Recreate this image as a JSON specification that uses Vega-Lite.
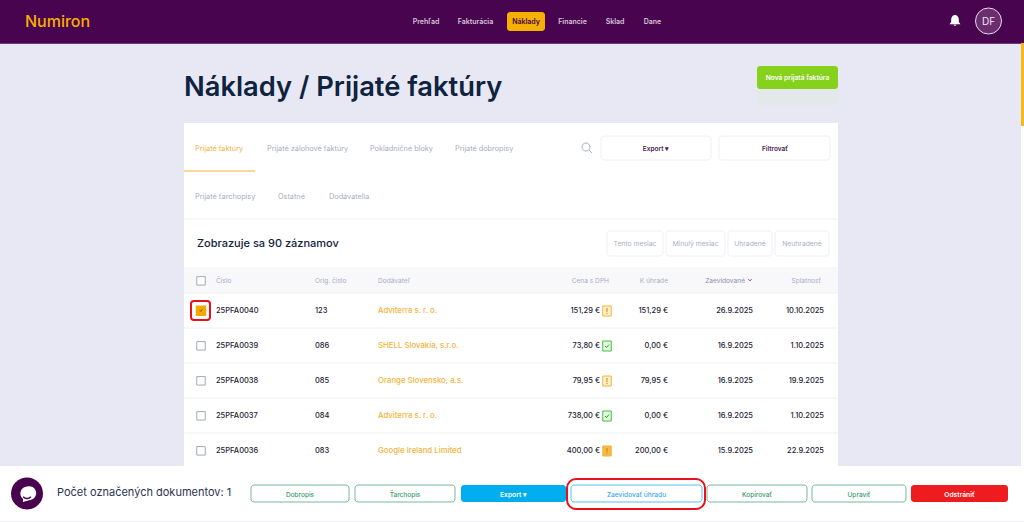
{
  "$schema": "https://vega.github.io/schema/vega-lite/v6.json",
  "width": 1024,
  "height": 522,
  "autosize": {"type": "fit", "contains": "padding"},
  "padding": 0,
  "background": "#e7e8f3",
  "config": {
    "view": {"stroke": null},
    "axis": {"disable": true},
    "legend": {"disable": true},
    "text": {"font": "Inter", "dy": 1}
  },
  "encoding": {
    "x": {
      "field": "c",
      "type": "quantitative",
      "scale": {
        "nice": false,
        "zero": false,
        "domain": [0,1,2,3,4,5,6,7,8,9,10,11,12,13,14,15,16,17,18,19,20,21,22,23,24,25,26,27,28,29,30,31,32,33,34,35,36,37,38,39,40,41,42,43,44,45,46,47,48,49,50,51,52,53,54,55,56,57,58,59,60,61,62,63,64,65,66,67,68,69,70,71,72,73,74,75,76,77,78,79,80,81,82],
        "range": [0,25,27,57,184,191,195,197,201,205,210,216,251,255,267,278,300,315,329,349,355,370,378,405,426,455,461,475.5,507,513.5,526,545,566,567,571,572.5,587,600,601,602.5,607,609,611,615,635,636.5,652.5,656,663,666,668,695.5,702,705,707,711,719,725,728,745,750,753,757,772,775,797.5,802,807,812,821,824,829,830,838,859,906,911,955,959.5,988.5,1008,1021,1024]
      }
    },
    "y": {
      "field": "r",
      "type": "quantitative",
      "scale": {
        "nice": false,
        "zero": false,
        "domain": [0,1,2,3,4,5,6,7,8,9,10,11,11.5,12,13,14,15,16,17,18,19,20,21,22,23,24,25,26,27,28,29,30,31,32,33,34,35,36,37,38,39,40,41,42,43,44],
        "range": [0,12,21,31,43,44,66,77,87,89,105,123,126,136,148,160,171,172,196,219,220,231,243,256,267,280,293,301,310,320,328,345,363,380,398,415,433,450,466,479,485,493.5,502,509,521,522]
      }
    }
  },
  "layer": [
    {
      "data": {"values": [
        {"part": "glow", "c": 62, "c2": 73, "r": 7, "r2": 10},
        {"part": "header", "c": 0, "c2": 82, "r": 0, "r2": 4},
        {"part": "headerline", "c": 0, "c2": 82, "r": 4, "r2": 5},
        {"part": "scrollbar", "c": 81, "c2": 82, "r": 4, "r2": 11.5},
        {"part": "panel", "c": 81, "c2": 82, "r": 11.5, "r2": 37},
        {"part": "panel", "c": 4, "c2": 73, "r": 11, "r2": 37},
        {"part": "band", "c": 4, "c2": 73, "r": 23, "r2": 25},
        {"part": "panel", "c": 0, "c2": 82, "r": 37, "r2": 43},
        {"part": "edge", "c": 0, "c2": 82, "r": 43, "r2": 44}
      ]},
      "mark": {"type": "rect"},
      "encoding": {
        "x2": {"field": "c2"},
        "y2": {"field": "r2"},
        "color": {
          "field": "part",
          "type": "nominal",
          "scale": {
            "domain": ["glow", "header", "headerline", "scrollbar", "panel", "band", "edge"],
            "range": ["#e3e9ea", "#48044e", "#6f3a78", "#f5b81c", "#ffffff", "#f8f8fb", "#eeeef3"]
          }
        }
      }
    },
    {
      "data": {"values": [
        {"c": 4, "c2": 73, "r": 18},
        {"c": 4, "c2": 73, "r": 25},
        {"c": 4, "c2": 73, "r": 29},
        {"c": 4, "c2": 73, "r": 31},
        {"c": 4, "c2": 73, "r": 33},
        {"c": 4, "c2": 73, "r": 35}
      ]},
      "mark": {"type": "rule", "color": "#eff0f5", "strokeWidth": 1},
      "encoding": {"x2": {"field": "c2"}}
    },
    {
      "data": {"values": [{"c": 4, "c2": 13, "r": 15}]},
      "mark": {"type": "rule", "color": "#f2b33d", "strokeWidth": 1},
      "encoding": {"x2": {"field": "c2"}}
    },
    {
      "data": {"values": [
        {"part": "active", "c": 28, "c2": 31, "r": 1, "r2": 3},
        {"part": "new", "c": 62, "c2": 73, "r": 6, "r2": 9},
        {"part": "export", "c": 26, "c2": 32, "r": 39, "r2": 41},
        {"part": "remove", "c": 76, "c2": 80, "r": 39, "r2": 41}
      ]},
      "mark": {"type": "rect", "cornerRadius": 3},
      "encoding": {
        "x2": {"field": "c2"},
        "y2": {"field": "r2"},
        "fill": {
          "field": "part",
          "type": "nominal",
          "scale": {
            "domain": ["active", "new", "export", "remove"],
            "range": ["#f5b000", "#86d11b", "#00adef", "#ee1c1f"]
          }
        }
      }
    },
    {
      "data": {"values": [
        {"part": "soft", "c": 38, "c2": 55, "r": 12, "r2": 14},
        {"part": "soft", "c": 56, "c2": 72, "r": 12, "r2": 14},
        {"part": "soft", "c": 40, "c2": 48, "r": 20, "r2": 22},
        {"part": "soft", "c": 49, "c2": 57, "r": 20, "r2": 22},
        {"part": "soft", "c": 58, "c2": 63, "r": 20, "r2": 22},
        {"part": "soft", "c": 64, "c2": 71, "r": 20, "r2": 22},
        {"part": "green", "c": 12, "c2": 19, "r": 39, "r2": 41},
        {"part": "green", "c": 20, "c2": 25, "r": 39, "r2": 41},
        {"part": "blue", "c": 34, "c2": 52, "r": 39, "r2": 41},
        {"part": "green", "c": 54, "c2": 67, "r": 39, "r2": 41},
        {"part": "green", "c": 68, "c2": 75, "r": 39, "r2": 41}
      ]},
      "mark": {"type": "rect", "cornerRadius": 3, "fill": "#ffffff", "strokeWidth": 1},
      "encoding": {
        "x2": {"field": "c2"},
        "y2": {"field": "r2"},
        "stroke": {
          "field": "part",
          "type": "nominal",
          "scale": {"domain": ["soft", "green", "blue"], "range": ["#eef0f6", "#76b79f", "#5bc0f0"]}
        }
      }
    },
    {
      "data": {"values": [{"c": 5, "c2": 10, "r": 26, "r2": 28}]},
      "mark": {"type": "rect", "cornerRadius": 3, "fillOpacity": 0, "stroke": "#e8101c", "strokeWidth": 2},
      "encoding": {"x2": {"field": "c2"}, "y2": {"field": "r2"}}
    },
    {
      "data": {"values": [{"c": 33, "c2": 53, "r": 38, "r2": 42}]},
      "mark": {"type": "rect", "cornerRadius": 9, "fillOpacity": 0, "stroke": "#e8101c", "strokeWidth": 2},
      "encoding": {"x2": {"field": "c2"}, "y2": {"field": "r2"}}
    },
    {
      "data": {"values": [{"c": 8, "r": 24}, {"c": 8, "r": 30}, {"c": 8, "r": 32}, {"c": 8, "r": 34}, {"c": 8, "r": 36}]},
      "mark": {"type": "point", "shape": "M-1,-0.8H1V1.2H-1Z", "size": 72, "filled": true, "fill": "#ffffff", "stroke": "#a5a8bd", "strokeWidth": 1, "opacity": 1}
    },
    {
      "data": {"values": [{"c": 8, "r": 27}]},
      "mark": {"type": "point", "shape": "M-1,-0.8H1V1.2H-1Z", "size": 72, "filled": true, "fill": "#f5a800", "stroke": "#f5a800", "opacity": 1}
    },
    {
      "data": {"values": [{"c": 8, "r": 27}]},
      "mark": {"type": "point", "shape": "M-0.6,0.2L-0.15,0.65L0.7,-0.25", "size": 16, "filled": false, "stroke": "#6b4a10", "strokeWidth": 1, "opacity": 1}
    },
    {
      "data": {"values": [{"c": 40, "r": 27}, {"c": 40, "r": 32}]},
      "mark": {"type": "point", "shape": "M-0.85,-0.8H0.85V1.2H-0.85Z", "size": 100, "filled": true, "fill": "#fff1cc", "stroke": "#f2b33d", "strokeWidth": 1, "opacity": 1}
    },
    {
      "data": {"values": [{"c": 40, "r": 30}, {"c": 40, "r": 34}]},
      "mark": {"type": "point", "shape": "M-0.85,-0.8H0.85V1.2H-0.85Z", "size": 100, "filled": true, "fill": "#e6fbe2", "stroke": "#3fc23c", "strokeWidth": 1, "opacity": 1}
    },
    {
      "data": {"values": [{"c": 40, "r": 30}, {"c": 40, "r": 34}]},
      "mark": {"type": "point", "shape": "M-0.4,0.2L-0.1,0.5L0.4,-0.1", "size": 100, "filled": false, "stroke": "#2f9e2c", "strokeWidth": 1, "opacity": 1}
    },
    {
      "data": {"values": [{"c": 40, "r": 36}]},
      "mark": {"type": "point", "shape": "M-0.85,-0.8H0.85V1.2H-0.85Z", "size": 100, "filled": true, "fill": "#f5bb45", "stroke": "#f2b33d", "strokeWidth": 1, "opacity": 1}
    },
    {
      "data": {"values": [{"c": 36, "r": 13}]},
      "mark": {"type": "point", "shape": "M0.4,0.4L1,1M0.6,-0.2A0.8,0.8,0,1,1,-1,-0.2A0.8,0.8,0,1,1,0.6,-0.2Z", "size": 100, "filled": false, "stroke": "#a8adc0", "strokeWidth": 1, "opacity": 1}
    },
    {
      "data": {"values": [{"c": 77, "r": 2}]},
      "mark": {"type": "point", "shape": "M0,-1.1C0.5,-1.1,0.7,-0.6,0.7,-0.2L0.7,0.2L1,0.6L-1,0.6L-0.7,0.2L-0.7,-0.2C-0.7,-0.6,-0.5,-1.1,0,-1.1ZM-0.25,0.7L0.25,0.7C0.25,0.95,-0.25,0.95,-0.25,0.7Z", "size": 120, "filled": true, "fill": "#ffffff", "strokeWidth": 0, "opacity": 1}
    },
    {
      "data": {"values": [{"c": 79, "r": 2}]},
      "mark": {"type": "point", "shape": "circle", "size": 676, "filled": true, "fill": "#6b2c70", "stroke": "#e6dce8", "strokeWidth": 1, "opacity": 1}
    },
    {
      "data": {"values": [{"c": 2, "r": 40}]},
      "mark": {"type": "point", "shape": "circle", "size": 1024, "filled": true, "fill": "#48044e", "strokeWidth": 0, "opacity": 1}
    },
    {
      "data": {"values": [{"c": 2, "r": 40}]},
      "mark": {"type": "point", "shape": "M0,-1A1,1,0,1,1,0.3,0.95L-0.6,1.2L-0.55,0.8A1,1,0,0,1,0,-1Z", "size": 196, "filled": true, "fill": "#ffffff", "strokeWidth": 0, "opacity": 1}
    },
    {
      "data": {"values": [{"c": 2, "r": 40}]},
      "mark": {"type": "point", "shape": "M-0.55,0.45C-0.25,0.8,0.25,0.8,0.55,0.45", "size": 196, "filled": false, "stroke": "#48044e", "strokeWidth": 1.5, "opacity": 1}
    },
    {
      "data": {"values": [{"c": 60, "r": 24}]},
      "mark": {"type": "point", "shape": "M-1,-0.5L0,0.5L1,-0.5", "size": 9, "filled": false, "stroke": "#6b2c70", "strokeWidth": 1, "opacity": 1}
    },
    {
      "data": {"values": [{"t": "Numiron", "c": 1, "r": 2}]},
      "mark": {"type": "text", "align": "left", "fontSize": 16, "fontWeight": 500, "color": "#f5b000"},
      "encoding": {"text": {"field": "t"}}
    },
    {
      "data": {"values": [
        {"t": "Prehľad", "c": 24, "r": 2},
        {"t": "Fakturácia", "c": 27, "r": 2},
        {"t": "Financie", "c": 35, "r": 2},
        {"t": "Sklad", "c": 43, "r": 2},
        {"t": "Dane", "c": 46, "r": 2}
      ]},
      "mark": {"type": "text", "align": "center", "fontSize": 7, "fontWeight": 600, "color": "#d8c6da"},
      "encoding": {"text": {"field": "t"}}
    },
    {
      "data": {"values": [{"t": "Náklady", "c": 30, "r": 2}]},
      "mark": {"type": "text", "align": "center", "fontSize": 7, "fontWeight": 600, "color": "#48044e"},
      "encoding": {"text": {"field": "t"}}
    },
    {
      "data": {"values": [{"t": "DF", "c": 79, "r": 2}]},
      "mark": {"type": "text", "align": "center", "fontSize": 10, "color": "#f0e8f0"},
      "encoding": {"text": {"field": "t"}}
    },
    {
      "data": {"values": [{"t": "Náklady / Prijaté faktúry", "c": 4, "r": 8}]},
      "mark": {"type": "text", "align": "left", "fontSize": 27.3, "fontWeight": 600, "color": "#0f2340"},
      "encoding": {"text": {"field": "t"}}
    },
    {
      "data": {"values": [
        {"t": "Nová prijatá faktúra", "c": 65, "r": 7},
        {"t": "Export ▾", "c": 29, "r": 40},
        {"t": "Odstrániť", "c": 78, "r": 40}
      ]},
      "mark": {"type": "text", "align": "center", "fontSize": 6.7, "fontWeight": 600, "color": "#ffffff"},
      "encoding": {"text": {"field": "t"}}
    },
    {
      "data": {"values": [{"t": "Prijaté faktúry", "c": 6, "r": 13}]},
      "mark": {"type": "text", "align": "left", "fontSize": 7.3, "color": "#f2b33d"},
      "encoding": {"text": {"field": "t"}}
    },
    {
      "data": {"values": [
        {"t": "Prijaté zálohové faktúry", "c": 14, "r": 13},
        {"t": "Pokladničné bloky", "c": 21, "r": 13},
        {"t": "Prijaté dobropisy", "c": 25, "r": 13},
        {"t": "Prijaté ťarchopisy", "c": 6, "r": 17},
        {"t": "Ostatné", "c": 15, "r": 17},
        {"t": "Dodávatelia", "c": 18, "r": 17}
      ]},
      "mark": {"type": "text", "align": "left", "fontSize": 7.3, "color": "#a8adc0"},
      "encoding": {"text": {"field": "t"}}
    },
    {
      "data": {"values": [{"t": "Export ▾", "c": 47, "r": 13}, {"t": "Filtrovať", "c": 64, "r": 13}]},
      "mark": {"type": "text", "align": "center", "fontSize": 6.5, "fontWeight": 600, "color": "#4a1a50"},
      "encoding": {"text": {"field": "t"}}
    },
    {
      "data": {"values": [{"t": "Zobrazuje sa 90 záznamov", "c": 7, "r": 21}]},
      "mark": {"type": "text", "align": "left", "fontSize": 11, "fontWeight": 500, "color": "#0f2340"},
      "encoding": {"text": {"field": "t"}}
    },
    {
      "data": {"values": [
        {"t": "Tento mesiac", "c": 44, "r": 21},
        {"t": "Minulý mesiac", "c": 51, "r": 21},
        {"t": "Uhradené", "c": 60, "r": 21},
        {"t": "Neuhradené", "c": 66, "r": 21}
      ]},
      "mark": {"type": "text", "align": "center", "fontSize": 6.8, "color": "#a8b0c6"},
      "encoding": {"text": {"field": "t"}}
    },
    {
      "data": {"values": [
        {"t": "Číslo", "c": 11, "r": 24},
        {"t": "Orig. číslo", "c": 17, "r": 24},
        {"t": "Dodávateľ", "c": 22, "r": 24}
      ]},
      "mark": {"type": "text", "align": "left", "fontSize": 6.6, "color": "#a8adc0"},
      "encoding": {"text": {"field": "t"}}
    },
    {
      "data": {"values": [
        {"t": "Cena s DPH", "c": 41, "r": 24},
        {"t": "K úhrade", "c": 50, "r": 24},
        {"t": "Splatnosť", "c": 69, "r": 24}
      ]},
      "mark": {"type": "text", "align": "right", "fontSize": 6.6, "color": "#a8adc0"},
      "encoding": {"text": {"field": "t"}}
    },
    {
      "data": {"values": [{"t": "Zaevidované", "c": 59, "r": 24}]},
      "mark": {"type": "text", "align": "right", "fontSize": 6.6, "color": "#8e8ea8"},
      "encoding": {"text": {"field": "t"}}
    },
    {
      "data": {"values": [
        {"t": "25PFA0040", "c": 11, "r": 27},
        {"t": "25PFA0039", "c": 11, "r": 30},
        {"t": "25PFA0038", "c": 11, "r": 32},
        {"t": "25PFA0037", "c": 11, "r": 34},
        {"t": "25PFA0036", "c": 11, "r": 36},
        {"t": "123", "c": 17, "r": 27},
        {"t": "086", "c": 17, "r": 30},
        {"t": "085", "c": 17, "r": 32},
        {"t": "084", "c": 17, "r": 34},
        {"t": "083", "c": 17, "r": 36}
      ]},
      "mark": {"type": "text", "align": "left", "fontSize": 7.5, "fontWeight": 500, "color": "#1d2233"},
      "encoding": {"text": {"field": "t"}}
    },
    {
      "data": {"values": [
        {"t": "Adviterra s. r. o.", "c": 22, "r": 27},
        {"t": "SHELL Slovakia, s.r.o.", "c": 22, "r": 30},
        {"t": "Orange Slovensko, a.s.", "c": 22, "r": 32},
        {"t": "Adviterra s. r. o.", "c": 22, "r": 34},
        {"t": "Google Ireland Limited", "c": 22, "r": 36}
      ]},
      "mark": {"type": "text", "align": "left", "fontSize": 7.8, "fontWeight": 500, "color": "#f2b33d"},
      "encoding": {"text": {"field": "t"}}
    },
    {
      "data": {"values": [
        {"t": "151,29 €", "c": 37, "r": 27},
        {"t": "73,80 €", "c": 37, "r": 30},
        {"t": "79,95 €", "c": 37, "r": 32},
        {"t": "738,00 €", "c": 37, "r": 34},
        {"t": "400,00 €", "c": 37, "r": 36},
        {"t": "151,29 €", "c": 50, "r": 27},
        {"t": "0,00 €", "c": 50, "r": 30},
        {"t": "79,95 €", "c": 50, "r": 32},
        {"t": "0,00 €", "c": 50, "r": 34},
        {"t": "200,00 €", "c": 50, "r": 36},
        {"t": "26.9.2025", "c": 61, "r": 27},
        {"t": "16.9.2025", "c": 61, "r": 30},
        {"t": "16.9.2025", "c": 61, "r": 32},
        {"t": "16.9.2025", "c": 61, "r": 34},
        {"t": "15.9.2025", "c": 61, "r": 36},
        {"t": "10.10.2025", "c": 70, "r": 27},
        {"t": "1.10.2025", "c": 70, "r": 30},
        {"t": "19.9.2025", "c": 70, "r": 32},
        {"t": "1.10.2025", "c": 70, "r": 34},
        {"t": "22.9.2025", "c": 70, "r": 36}
      ]},
      "mark": {"type": "text", "align": "right", "fontSize": 7.5, "fontWeight": 500, "color": "#1d2233"},
      "encoding": {"text": {"field": "t"}}
    },
    {
      "data": {"values": [{"t": "!", "c": 40, "r": 27}, {"t": "!", "c": 40, "r": 32}, {"t": "!", "c": 40, "r": 36}]},
      "mark": {"type": "text", "align": "center", "fontSize": 7, "fontWeight": 700, "dy": 2, "color": "#c98a10"},
      "encoding": {"text": {"field": "t"}}
    },
    {
      "data": {"values": [{"t": "Počet označených dokumentov: 1", "c": 3, "r": 40}]},
      "mark": {"type": "text", "align": "left", "fontSize": 11, "dy": -0.5, "color": "#2a3350"},
      "encoding": {"text": {"field": "t"}}
    },
    {
      "data": {"values": [
        {"t": "Dobropis", "c": 16, "r": 40},
        {"t": "Ťarchopis", "c": 23, "r": 40},
        {"t": "Kopírovať", "c": 62, "r": 40},
        {"t": "Upraviť", "c": 74, "r": 40}
      ]},
      "mark": {"type": "text", "align": "center", "fontSize": 6.5, "fontWeight": 500, "color": "#3c9a6a"},
      "encoding": {"text": {"field": "t"}}
    },
    {
      "data": {"values": [{"t": "Zaevidovať úhradu", "c": 45, "r": 40}]},
      "mark": {"type": "text", "align": "center", "fontSize": 6.6, "fontWeight": 500, "color": "#3fa9e8"},
      "encoding": {"text": {"field": "t"}}
    }
  ]
}
